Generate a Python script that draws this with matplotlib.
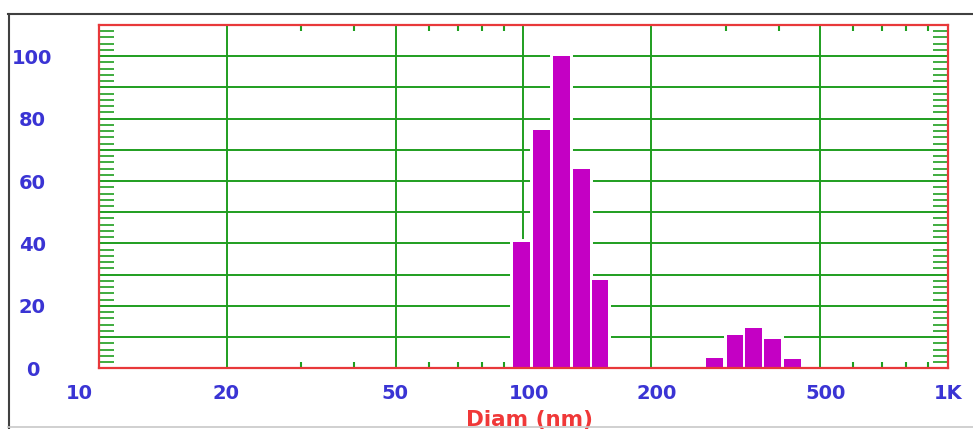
import matplotlib
matplotlib.use('Agg')
import matplotlib.pyplot as plt
from matplotlib.ticker import FixedLocator, NullFormatter, FuncFormatter
from matplotlib.lines import Line2D
from matplotlib.transforms import ScaledTranslation

# ---- data ----
diam_nm = [99.0, 110.4, 123.1, 137.2, 151.7, 282.9, 315.4, 349.4, 386.3, 430.5]
intensity = [40.4, 76.3, 100.0, 64.0, 28.4, 3.4, 10.6, 13.0, 9.3, 2.9]
x_ticks = [10, 20, 50, 100, 200, 500, 1000]
x_tick_labels = ['10', '20', '50', '100', '200', '500', '1K']
x_minor = [30, 40, 60, 70, 80, 90, 300, 400, 600, 700, 800, 900]
y_ticks = [0, 20, 40, 60, 80, 100]
x_label = 'Diam (nm)'

plt.rcParams['font.family'] = ['DejaVu Sans']
plt.rcParams['font.weight'] = 'bold'

DPI = 100
W, H = 973, 429
fig = plt.figure(figsize=(W / DPI, H / DPI), dpi=DPI)
ax_l, ax_r, ax_t, ax_b = 99, 947.5, 25, 368.3
ax = fig.add_axes([ax_l / W, 1 - ax_b / H, (ax_r - ax_l) / W, (ax_b - ax_t) / H])

green = '#1f9e1f'
red = '#e8383a'
blue = '#3a34d4'
magenta = '#c400c4'

ax.set_xscale('log')
ax.set_xlim(10, 1000)
ax.set_ylim(0, 110)

# x axis ticks
ax.xaxis.set_major_locator(FixedLocator(x_ticks))
ax.xaxis.set_major_formatter(FuncFormatter(
    lambda v, p: x_tick_labels[x_ticks.index(v)] if v in x_ticks else ''))
ax.xaxis.set_minor_locator(FixedLocator(x_minor))
ax.xaxis.set_minor_formatter(NullFormatter())

# y axis ticks: grid every 10, labels every 20
ax.yaxis.set_major_locator(FixedLocator(list(range(0, 111, 10))))
ax.yaxis.set_major_formatter(FuncFormatter(
    lambda v, p: str(int(v)) if int(round(v)) in y_ticks else ''))
ax.yaxis.set_minor_locator(FixedLocator([v for v in range(2, 110, 2) if v % 10]))
ax.yaxis.set_minor_formatter(NullFormatter())

ax.grid(True, which='major', color=green, linewidth=1.4)

ax.tick_params(axis='both', which='major', length=0, labelcolor=blue, labelsize=14)
ax.tick_params(axis='y', which='major', pad=47.9)
ax.tick_params(axis='x', which='major', pad=11.5)
ax.tick_params(axis='y', which='minor', direction='in', length=11, width=1.2,
               color=green, left=True, right=True)
ax.tick_params(axis='x', which='minor', direction='in', length=4.3, width=1.5,
               color=green, top=True, bottom=True)

for s in ax.spines.values():
    s.set_color(red)
    s.set_linewidth(1.6)

# bars (log-centred bins) with white halo
half = 10 ** 0.0197
lefts = [d / half for d in diam_nm]
widths = [d * half - d / half for d in diam_nm]
ax.bar(lefts, intensity, width=widths, align='edge', color='white',
       edgecolor='white', linewidth=4.3, zorder=2.0)
ax.bar(lefts, intensity, width=widths, align='edge', color=magenta,
       linewidth=0, zorder=2.1)

# x label
ax.set_xlabel(x_label, color='#f03838', fontsize=15.5, fontweight='bold')
ax.xaxis.set_label_coords((529 - ax_l) / (ax_r - ax_l), -(410 - ax_b) / (ax_b - ax_t))

# tick label alignment
for lbl in ax.get_yticklabels():
    lbl.set_ha('center')
for i, lbl in enumerate(ax.get_xticklabels()):
    lbl.set_ha('left')
    off = -33 if i == 0 else -14
    lbl.set_transform(lbl.get_transform() + ScaledTranslation(off / DPI, 0, fig.dpi_scale_trans))

# outer frame of the screenshot
fig.add_artist(Line2D([8 / W, 1], [1 - 14 / H] * 2, color='#404040', lw=1.5,
                      transform=fig.transFigure))
fig.add_artist(Line2D([8.5 / W] * 2, [0, 1 - 14 / H], color='#404040', lw=1.5,
                      transform=fig.transFigure))
fig.add_artist(Line2D([8 / W, 1], [1 - 427 / H] * 2, color='#c8c8c8', lw=1.2,
                      transform=fig.transFigure))

fig.savefig('out.png', dpi=DPI)
